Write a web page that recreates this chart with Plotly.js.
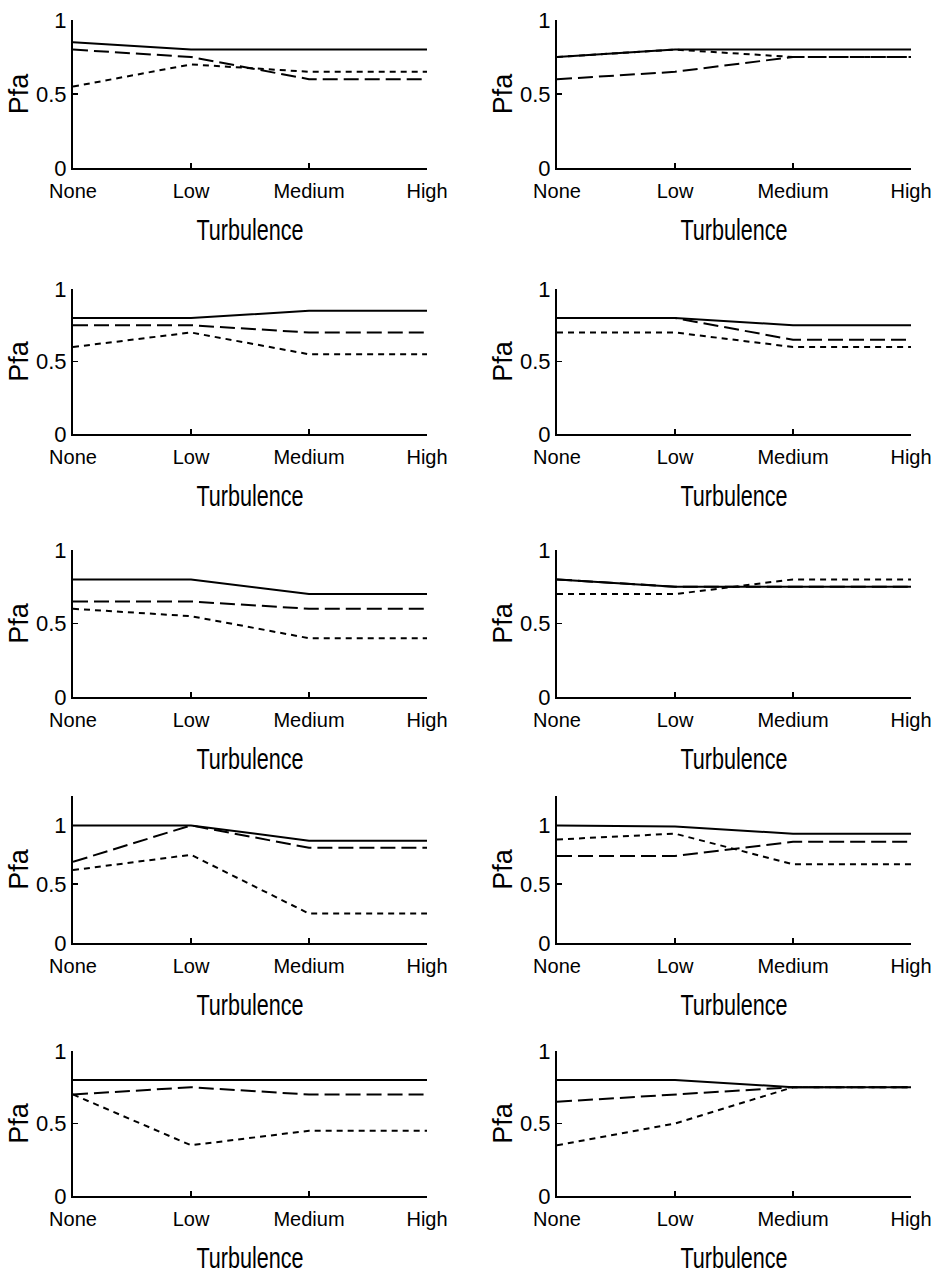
<!DOCTYPE html>
<html>
<head>
<meta charset="utf-8">
<script src="https://cdn.plot.ly/plotly-3.0.1.min.js"></script>
<style>
  html, body { margin: 0; padding: 0; background: #fff; }
  #chart { width: 940px; height: 1278px; }
  /* the reference uses a tall, condensed face for the x titles */
  #chart text[class^="x"][class$="title"] {
    transform-box: fill-box;
    transform-origin: center;
    transform: scale(0.72, 1);
  }
</style>
</head>
<body>
<div id="chart"></div>
<script>
// ---- Data ----
const categories = ['None', 'Low', 'Medium', 'High'];
const yTickValues = [0, 0.5, 1];
const yTickLabels = ['0', '0.5', '1'];
const xTitleText = 'Turbulence';
const yTitleText = 'Pfa';

// one entry per panel, panels ordered row by row (left, right)
const solidSeries = [
  [0.85, 0.80, 0.80, 0.80],
  [0.75, 0.80, 0.80, 0.80],
  [0.80, 0.80, 0.85, 0.85],
  [0.80, 0.80, 0.75, 0.75],
  [0.80, 0.80, 0.70, 0.70],
  [0.80, 0.75, 0.75, 0.75],
  [1.00, 1.00, 0.87, 0.87],
  [1.00, 0.99, 0.93, 0.93],
  [0.80, 0.80, 0.80, 0.80],
  [0.80, 0.80, 0.75, 0.75]
];
const longDashSeries = [
  [0.80, 0.75, 0.60, 0.60],
  [0.60, 0.65, 0.75, 0.75],
  [0.75, 0.75, 0.70, 0.70],
  [0.80, 0.80, 0.65, 0.65],
  [0.65, 0.65, 0.60, 0.60],
  [0.80, 0.75, 0.75, 0.75],
  [0.69, 1.00, 0.81, 0.81],
  [0.74, 0.74, 0.86, 0.86],
  [0.70, 0.75, 0.70, 0.70],
  [0.65, 0.70, 0.75, 0.75]
];
const shortDashSeries = [
  [0.55, 0.70, 0.65, 0.65],
  [0.75, 0.80, 0.75, 0.75],
  [0.60, 0.70, 0.55, 0.55],
  [0.70, 0.70, 0.60, 0.60],
  [0.60, 0.55, 0.40, 0.40],
  [0.70, 0.70, 0.80, 0.80],
  [0.62, 0.75, 0.25, 0.25],
  [0.88, 0.93, 0.67, 0.67],
  [0.70, 0.35, 0.45, 0.45],
  [0.35, 0.50, 0.75, 0.75]
];
const yMaxPerPanel = [1, 1, 1, 1, 1, 1, 1.25, 1.25, 1, 1];

// ---- Layout geometry (pixels in the 940x1278 page) ----
const W = 940, H = 1278;
const colPx = [[73, 427], [557, 911]];
const rowPx = [[20, 168], [289, 434], [550, 697], [796, 943], [1051, 1196]];

const FONT = 'Liberation Sans, Arial, Helvetica, sans-serif';
const styles = [
  { data: shortDashSeries, dash: '6px,5px' },
  { data: longDashSeries, dash: '15px,6px' },
  { data: solidSeries, dash: 'solid' }
];

const traces = [];
const layout = {
  width: W, height: H,
  margin: { l: 0, r: 0, t: 0, b: 0, pad: 0 },
  paper_bgcolor: '#fff', plot_bgcolor: '#fff',
  showlegend: false,
  font: { family: FONT, color: '#000', size: 20 }
};

for (let p = 0; p < 10; p++) {
  const r = Math.floor(p / 2), c = p % 2;
  const n = p + 1;
  const xa = 'xaxis' + (n === 1 ? '' : n);
  const ya = 'yaxis' + (n === 1 ? '' : n);
  const xref = 'x' + (n === 1 ? '' : n);
  const yref = 'y' + (n === 1 ? '' : n);

  styles.forEach(s => {
    traces.push({
      type: 'scatter', mode: 'lines',
      x: categories, y: s.data[p],
      xaxis: xref, yaxis: yref,
      line: { color: '#000', width: 2, dash: s.dash },
      hoverinfo: 'skip'
    });
  });

  layout[xa] = {
    domain: [colPx[c][0] / W, colPx[c][1] / W],
    anchor: yref,
    type: 'category',
    range: [0, 3],
    showgrid: false, zeroline: false,
    showline: true, linecolor: '#000', linewidth: 2,
    ticks: 'inside', ticklen: 5, tickwidth: 1.5, tickcolor: '#000',
    ticklabelstandoff: 4,
    tickfont: { family: FONT, size: 20, color: '#000' },
    title: { text: xTitleText, font: { family: FONT, size: 30, color: '#000' }, standoff: 18 },
    automargin: false, fixedrange: true
  };
  layout[ya] = {
    domain: [1 - rowPx[r][1] / H, 1 - rowPx[r][0] / H],
    anchor: xref,
    range: [0, yMaxPerPanel[p]],
    tickvals: yTickValues, ticktext: yTickLabels,
    showgrid: false, zeroline: false,
    showline: true, linecolor: '#000', linewidth: 2,
    ticks: 'inside', ticklen: 5, tickwidth: 1.5, tickcolor: '#000',
    tickfont: { family: FONT, size: 22, color: '#000' },
    title: { text: yTitleText, font: { family: FONT, size: 27, color: '#000' }, standoff: 0 },
    automargin: false, fixedrange: true
  };
}

Plotly.newPlot('chart', traces, layout, { displayModeBar: false, staticPlot: true });
</script>
</body>
</html>
